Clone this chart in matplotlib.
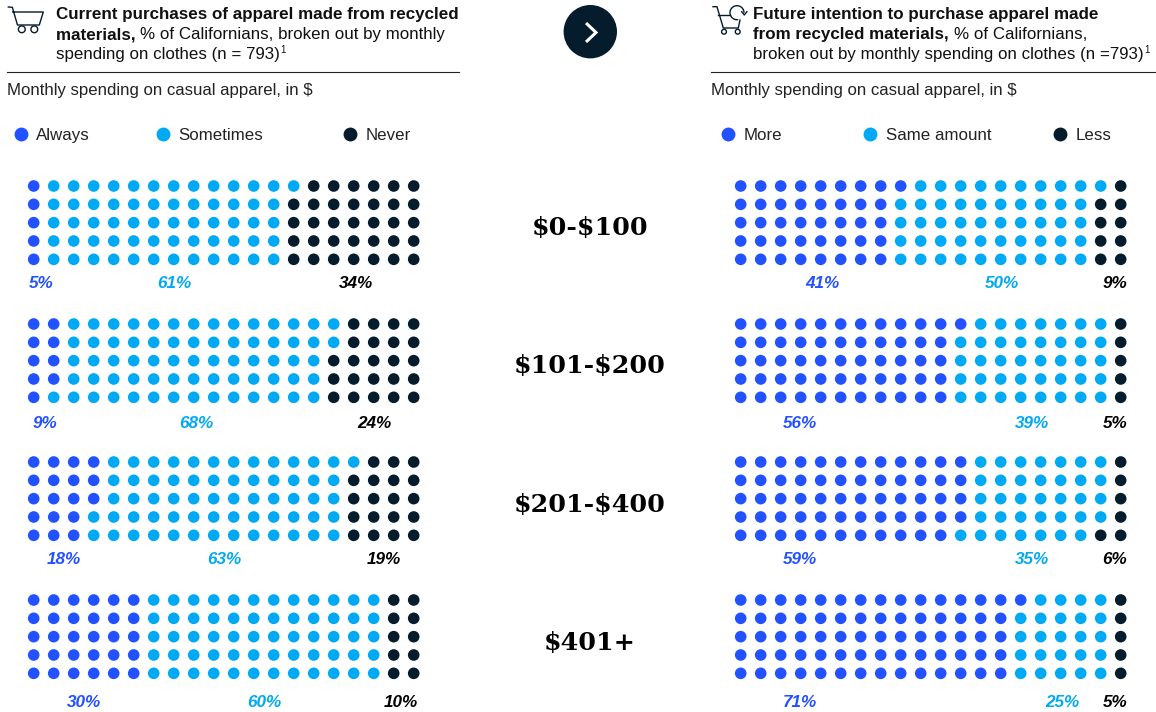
import matplotlib
matplotlib.use("Agg")
import matplotlib.pyplot as plt
from matplotlib.patches import Circle, Arc
import numpy as np

BLUE = "#2251FF"
CYAN = "#00A9F4"
DARK = "#051C2C"

spend_groups = ["$0-$100", "$101-$200", "$201-$400", "$401+"]

left_legend = ["Always", "Sometimes", "Never"]
right_legend = ["More", "Same amount", "Less"]

# printed percentages
left_labels = [[5, 61, 34], [9, 68, 24], [18, 63, 19], [30, 60, 10]]
right_labels = [[41, 50, 9], [56, 39, 5], [59, 35, 6], [71, 25, 5]]

# dots out of 100 per colour, rounded by the original so they differ from the labels at times
left_dots = [[5, 61, 34], [9, 68, 23], [18, 63, 19], [30, 60, 10]]
right_dots = [[41, 50, 9], [56, 39, 5], [59, 35, 6], [71, 24, 5]]

# label x centres, in pixels
left_label_x = [[41, 174, 356], [45, 196, 374], [64, 224, 384], [84, 264, 401]]
right_label_x = [[822, 1002, 1115], [800, 1032, 1115], [800, 1032, 1115], [800, 1062, 1115]]

group_top = [186, 324, 462, 600]
label_base = [288, 428, 564, 707]
group_base = [235, 373, 512, 650]

plt.rcParams["font.family"] = ["Liberation Sans", "DejaVu Sans"]

fig = plt.figure(figsize=(11.56, 7.12), dpi=100)
ax = fig.add_axes([0, 0, 1, 1])
ax.set_xlim(0, 1156)
ax.set_ylim(712, 0)
ax.axis("off")
colors = [BLUE, CYAN, DARK]


def draw_dots(x0, dots):
    for top, counts in zip(group_top, dots):
        c = np.repeat(colors, counts)
        idx = np.arange(100)
        xs = x0 + 20.0 * (idx // 5)
        ys = top + 18.33 * (idx % 5)
        ax.scatter(xs, ys, s=70, c=list(c), linewidths=0, zorder=3)


def draw_labels(labels, label_x):
    for y, vals, xs in zip(label_base, labels, label_x):
        for v, x, col in zip(vals, xs, [BLUE, CYAN, "black"]):
            ax.text(x, y, f"{v}%", color=col, fontsize=12.3, fontweight="bold",
                    fontstyle="italic", ha="center", va="baseline")


def title_line(x, y, parts, note=False):
    # parts are (text, bold) pairs placed one after the other
    r = fig.canvas.get_renderer()
    for s, bold in parts:
        t = ax.text(x, y, s, fontsize=12.28 if bold else 12.15, color="#111111", va="baseline",
                    ha="left", fontweight="bold" if bold else "normal", parse_math=False)
        x = t.get_window_extent(r).x1
    if note:
        ax.text(x + 0.5, y - 6, "1", fontsize=7, color="#111111", va="baseline", ha="left")


def legend(xs, names):
    for x, name, col in zip(xs, names, colors):
        ax.scatter([x], [134], s=100, c=col, linewidths=0)
        ax.text(x + 15.5, 140, name, fontsize=12.2, color="#222222", va="baseline", ha="left")


draw_dots(33.7, left_dots)
draw_dots(740.7, right_dots)
draw_labels(left_labels, left_label_x)
draw_labels(right_labels, right_label_x)

title_line(56, 19, [("Current purchases of apparel made from recycled", True)])
title_line(56, 39, [("materials, ", True), ("% of Californians, broken out by monthly", False)])
title_line(56, 59, [("spending on clothes (n = 793)", False)], note=True)
title_line(753, 19, [("Future intention to purchase apparel made", True)])
title_line(753, 39, [("from recycled materials, ", True), ("% of Californians,", False)])
title_line(753, 59, [("broken out by monthly spending on clothes (n =793)", False)], note=True)

ax.plot([7, 459], [71.5, 71.5], color="#222222", lw=0.8)
ax.plot([711, 1156], [71.5, 71.5], color="#222222", lw=0.8)
for x in (7, 711):
    ax.text(x, 95, "Monthly spending on casual apparel, in $", fontsize=12.05, color="#222222",
            va="baseline", ha="left", parse_math=False)

legend([20.5, 162.5, 350], left_legend)
legend([728, 870, 1060], right_legend)

for y, g in zip(group_base, spend_groups):
    ax.text(590, y, g, family="DejaVu Serif", fontweight="bold", fontsize=18.3, color="black",
            ha="center", va="baseline", parse_math=False)

# arrow button
ax.add_patch(Circle((590.3, 31.7), 26.7, color=DARK, lw=0))
ax.plot([586, 596, 586], [23, 32.5, 42], color="white", lw=2.2, solid_capstyle="butt",
        solid_joinstyle="miter")

# cart icons
ax.plot([8.3, 12.3, 17.5, 39.3, 43.3, 12.8], [7, 7.3, 25, 25, 12, 12], color=DARK, lw=1)
ax.add_patch(Circle((21.8, 29.3), 3.4, fc="white", ec=DARK, lw=1, zorder=4))
ax.add_patch(Circle((34.3, 29.3), 3.4, fc="white", ec=DARK, lw=1, zorder=4))

ax.plot([713, 717, 723.3, 738.3, 740], [6.7, 6.7, 28, 28, 20], color=DARK, lw=1)
ax.plot([718.3, 730], [15, 15], color=DARK, lw=1)
ax.add_patch(Circle((724, 31.7), 2.4, fc="white", ec=DARK, lw=1, zorder=4))
ax.add_patch(Circle((737.7, 31.7), 2.4, fc="white", ec=DARK, lw=1, zorder=4))
ax.add_patch(Arc((737, 12.7), 14, 14, theta1=80, theta2=360, color=DARK, lw=1))
ax.plot([741.7, 744.3, 746.9], [11.7, 15, 11.7], color=DARK, lw=1)

fig.savefig("out.png", dpi=100, facecolor="white")
